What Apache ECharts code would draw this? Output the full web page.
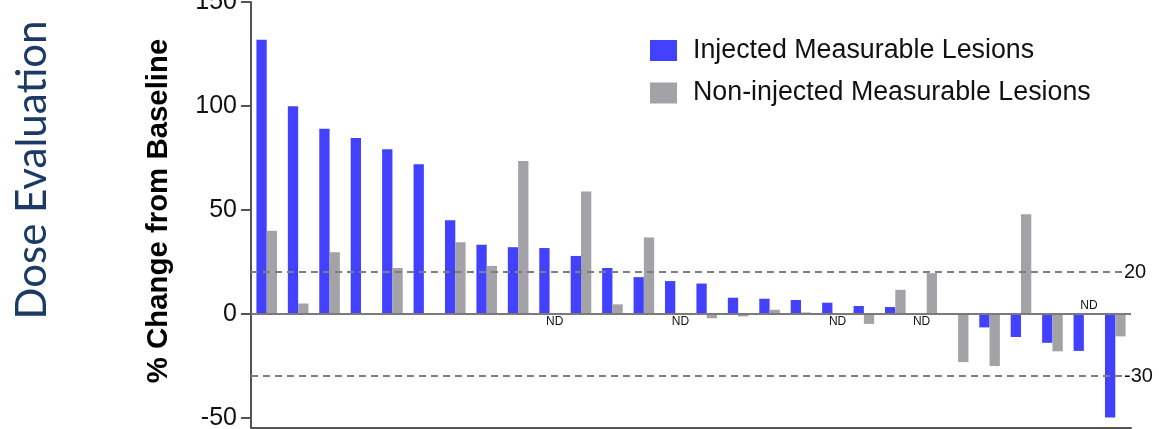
<!DOCTYPE html>
<html>
<head>
<meta charset="utf-8">
<script src="https://cdn.jsdelivr.net/npm/echarts@6/dist/echarts.min.js"></script>
<style>
  html, body { margin: 0; padding: 0; background: #ffffff; }
  #chart { width: 1159px; height: 429px; }
</style>
</head>
<body>
<div id="chart"></div>
<script>
// Patients, ordered by injected-lesion response
const patients = ['P1','P2','P3','P4','P5','P6','P7','P8','P9','P10','P11','P12','P13','P14',
                  'P15','P16','P17','P18','P19','P20','P21','P22','P23','P24','P25','P26','P27','P28'];

// % change from baseline; null = not done (ND)
const injected = [131.8, 99.8, 89.0, 84.5, 79.2, 71.9, 45.0, 33.2, 32.0, 31.6, 27.8, 22.0, 17.6, 15.7,
                  14.5, 7.7, 7.2, 6.6, 5.3, 3.7, 3.2, null, -0.6, -6.6, -11.2, -14.0, -17.9, -50.0];
const nonInjected = [39.9, 4.9, 29.6, 0, 22.0, 0, 34.4, 23.0, 73.5, null, 58.8, 4.5, 36.7, null,
                     -2.2, -1.3, 1.9, 0.6, null, -4.9, 11.5, 19.5, -23.3, -25.2, 47.9, -18.1, null, -10.9];

const yTicks = [-50, 0, 50, 100, 150];
const thresholds = [20, -30];

const seriesNames = ['Injected Measurable Lesions', 'Non-injected Measurable Lesions'];
const colors = ['#4141FF', '#A2A2A7'];

// ND entries become empty bars carrying an "ND" label on the side away from the partner bar
function toBarData(values, partner) {
  return values.map((v, i) => {
    if (v !== null) return v;
    const other = partner[i];
    const above = other !== null && other < 0;
    return {
      value: 0,
      label: {
        show: true,
        formatter: 'ND',
        position: above ? 'top' : 'bottom',
        distance: 2,
        fontFamily: 'Liberation Sans, Arial, sans-serif',
        fontSize: 12,
        color: '#111'
      }
    };
  });
}

const refLines = [{ yAxis: 0, lineStyle: { type: 'solid', color: '#7a7a7a', width: 2 }, label: { show: false } }]
  .concat(thresholds.map(t => ({
    yAxis: t,
    label: {
      show: true,
      position: 'end',
      formatter: String(t),
      distance: -9,
      fontFamily: 'Liberation Sans, Arial, sans-serif',
      fontSize: 20,
      color: '#111',
      backgroundColor: '#ffffff',
      padding: [0, 2, 0, 2]
    }
  })));

const chart = echarts.init(document.getElementById('chart'), null, { renderer: 'canvas' });

chart.setOption({
  animation: false,
  backgroundColor: '#ffffff',
  textStyle: { fontFamily: 'Liberation Sans, Arial, sans-serif' },
  graphic: [{
    type: 'text',
    x: 32,
    y: 170,
    rotation: Math.PI / 2,
    style: {
      text: 'Dose Evaluation',
      font: '42px Lato, "Open Sans", sans-serif',
      fill: '#1B3A66',
      align: 'center',
      verticalAlign: 'middle'
    }
  }],
  legend: {
    orient: 'vertical',
    left: 650,
    top: 37,
    padding: 0,
    itemWidth: 27,
    itemHeight: 21,
    itemGap: 15.5,
    icon: 'rect',
    textStyle: {
      fontSize: 26.8,
      lineHeight: 26,
      color: '#111',
      padding: [0, 0, 0, 11]
    },
    data: seriesNames
  },
  grid: { left: 251, right: 28, top: 2, bottom: 1, containLabel: false, outerBoundsMode: 'none' },
  xAxis: {
    type: 'category',
    data: patients,
    axisLine: { onZero: false, lineStyle: { color: '#555', width: 2 } },
    axisTick: { show: false },
    axisLabel: { show: false },
    splitLine: { show: false }
  },
  yAxis: {
    type: 'value',
    min: -55,
    max: 150,
    name: '% Change from Baseline',
    nameLocation: 'middle',
    nameGap: 78,
    nameTextStyle: { fontSize: 29.4, fontWeight: 'bold', color: '#000', padding: [0, 0, 0, 8] },
    axisLine: { show: true, lineStyle: { color: '#555', width: 2 } },
    axisTick: { show: true, length: 10, customValues: yTicks, lineStyle: { color: '#555', width: 2 } },
    axisLabel: { customValues: yTicks, fontSize: 25, color: '#111', margin: 14 },
    splitLine: { show: false }
  },
  series: [
    {
      name: seriesNames[0],
      type: 'bar',
      data: toBarData(injected, nonInjected),
      barWidth: 10.3,
      barGap: '0%',
      itemStyle: { color: colors[0] },
      markLine: {
        silent: true,
        symbol: 'none',
        lineStyle: { type: [7, 5], color: '#7f7f7f', width: 2 },
        data: refLines
      }
    },
    {
      name: seriesNames[1],
      type: 'bar',
      data: toBarData(nonInjected, injected),
      barWidth: 10.3,
      barGap: '0%',
      itemStyle: { color: colors[1] }
    }
  ]
});
</script>
</body>
</html>
